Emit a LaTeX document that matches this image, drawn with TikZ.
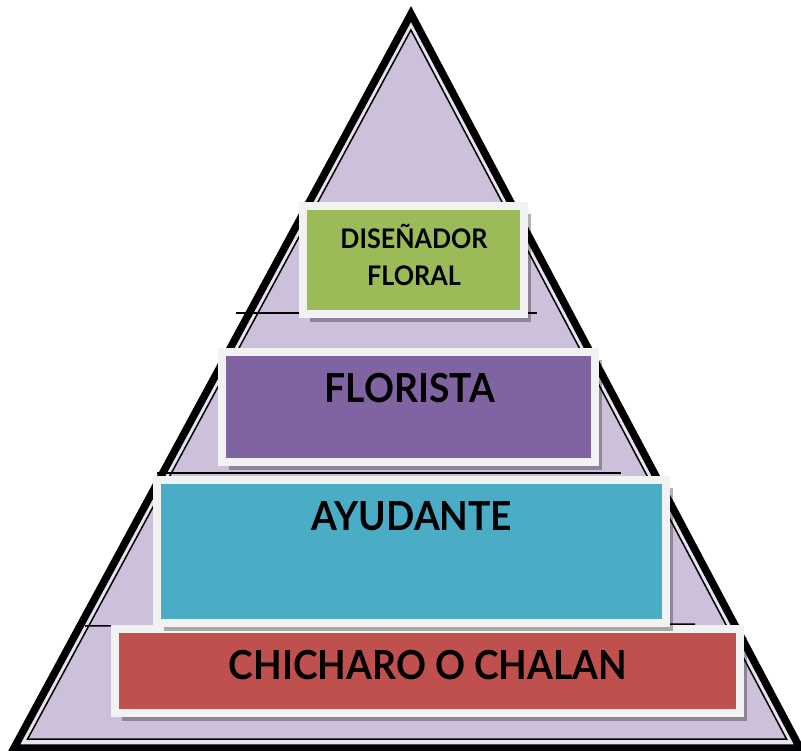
\documentclass[tikz,border=0pt]{standalone}
\usepackage{fontspec}
\setmainfont{Lato}
\newfontfamily\tierfont[FakeStretch=0.93]{Lato}
\usetikzlibrary{shadows}
\definecolor{lavender}{HTML}{CCC0DA}
\definecolor{paleband}{HTML}{E9E3EF}
\definecolor{framegray}{HTML}{F2F2F2}
\definecolor{designgreen}{HTML}{9BBB59}
\definecolor{floristpurple}{HTML}{8064A2}
\definecolor{helperblue}{HTML}{4BACC6}
\definecolor{chalanred}{HTML}{C0504D}
\begin{document}
\begin{tikzpicture}[x=1pt,y=-1pt,
  tier/.style={rectangle,draw=framegray,line width=8pt,inner sep=0pt,
    general shadow={shadow xshift=7pt,shadow yshift=-8pt,fill=black,opacity=.3}},
  tiertext/.style={inner sep=0pt,align=center,text=black,font=\tierfont\bfseries\fontsize{40}{48}\selectfont},
  divider/.style={line width=1.5pt,black}
  ]
    \useasboundingbox (0,0) rectangle (801,751);

    \draw[line width=7.5pt,line join=miter,fill=paleband] (411,14) -- (800,748) -- (14,748) -- cycle;
    \draw[line width=1.5pt,fill=lavender] (410.9,30) -- (786.5,739) -- (27.6,739) -- cycle;

    \coordinate (cut1l) at (236,313);
    \coordinate (cut1r) at (537,313);
    \coordinate (cut2l) at (157,473);
    \coordinate (cut2r) at (621,473);
    \coordinate (cut3l) at (85,626);
    \coordinate (cut3r) at (695,624);
    \draw[divider] (cut1l) -- (cut1r);
    \draw[divider] (cut2l) -- (cut2r);
    \draw[divider] (cut3l) -- (cut3r);

    \node[tier,fill=chalanred,minimum width=625pt,minimum height=84pt] (chalan) at (427.5,671) {};
    \node[tier,fill=helperblue,minimum width=509pt,minimum height=143pt] (ayudante) at (411.5,551.5) {};
    \node[tier,fill=floristpurple,minimum width=373pt,minimum height=110pt] (florista) at (408.5,407) {};
    \node[tier,fill=designgreen,minimum width=221pt,minimum height=108pt] (disenador) at (413.5,260) {};

    \node[tiertext] (chalanT) at (428,665) {CHICHARO O CHALAN};
    \node[tiertext] (ayudanteT) at (412,516) {AYUDANTE};
    \node[tiertext] (floristaT) at (410,388) {FLORISTA};
    \node[tiertext,font=\tierfont\bfseries\fontsize{27}{37}\selectfont] (disenadorT) at (414,255) {DISEÑADOR\\FLORAL};
\end{tikzpicture}
\end{document}
